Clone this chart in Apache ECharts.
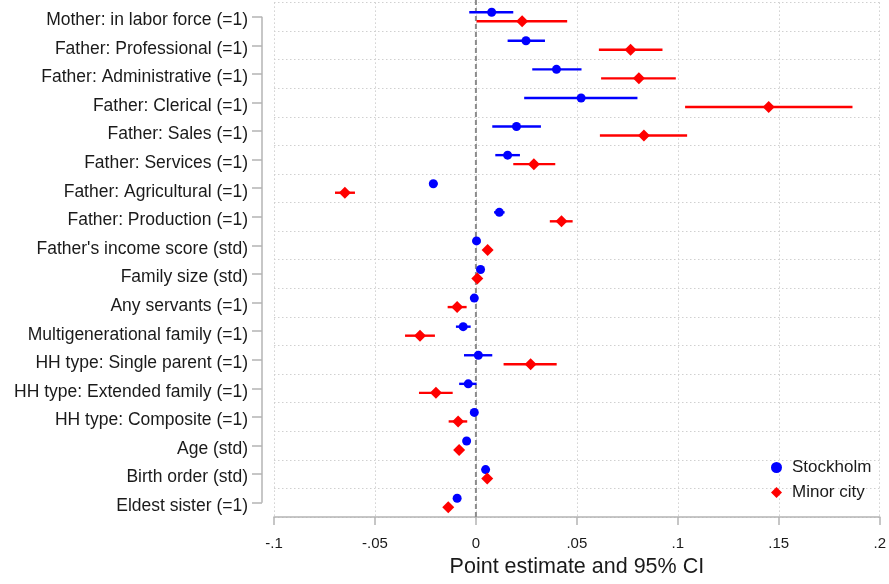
<!DOCTYPE html>
<html>
<head>
<meta charset="utf-8">
<script src="https://cdn.jsdelivr.net/npm/echarts@6/dist/echarts.min.js"></script>
<style>html,body{margin:0;padding:0;background:#fff;}#c{width:889px;height:584px;}</style>
</head>
<body>
<div id="c"></div>
<script>
var categories = [
  "Mother: in labor force (=1)",
  "Father: Professional (=1)",
  "Father: Administrative (=1)",
  "Father: Clerical (=1)",
  "Father: Sales (=1)",
  "Father: Services (=1)",
  "Father: Agricultural (=1)",
  "Father: Production (=1)",
  "Father's income score (std)",
  "Family size (std)",
  "Any servants (=1)",
  "Multigenerational family (=1)",
  "HH type: Single parent (=1)",
  "HH type: Extended family (=1)",
  "HH type: Composite (=1)",
  "Age (std)",
  "Birth order (std)",
  "Eldest sister (=1)"
];
var stockholmEst = [0.0078,0.0248,0.0399,0.0521,0.0201,0.0157,-0.0211,0.0116,0.0003,0.0023,-0.0008,-0.0063,0.0012,-0.0038,-0.0008,-0.0046,0.0048,-0.0093];
var stockholmLo  = [-0.0033,0.0157,0.0279,0.0239,0.0081,0.0096,-0.0232,0.0090,-0.0007,0.0013,-0.0022,-0.0099,-0.0059,-0.0083,-0.0022,-0.0056,0.0038,-0.0103];
var stockholmHi  = [0.0185,0.0342,0.0523,0.0800,0.0322,0.0218,-0.0190,0.0142,0.0013,0.0033,0.0006,-0.0026,0.0081,0.0003,0.0006,-0.0036,0.0058,-0.0083];
var minorEst = [0.0229,0.0766,0.0807,0.1450,0.0832,0.0287,-0.0649,0.0424,0.0058,0.0007,-0.0093,-0.0277,0.0271,-0.0198,-0.0088,-0.0083,0.0056,-0.0137];
var minorLo  = [0.0003,0.0609,0.0620,0.1036,0.0614,0.0185,-0.0698,0.0366,0.0048,-0.0003,-0.0140,-0.0351,0.0137,-0.0282,-0.0135,-0.0095,0.0046,-0.0149];
var minorHi  = [0.0452,0.0924,0.0990,0.1865,0.1046,0.0393,-0.0599,0.0479,0.0068,0.0017,-0.0046,-0.0203,0.0400,-0.0115,-0.0043,-0.0071,0.0066,-0.0125];
var seriesNames = ["Stockholm", "Minor city"];
var xTickLabels = ["-.1", "-.05", "0", ".05", ".1", ".15", ".2"];
var xTitle = "Point estimate and 95% CI";
var refLineValue = [0];

var BLUE = '#0000ff', RED = '#ff0000';
var OFF = 4.5;
var FONT = 'Liberation Sans, Arial, Helvetica, sans-serif';

function ciData(lo, hi) {
  return categories.map(function (c, i) { return [lo[i], hi[i], i]; });
}
function ptData(est) {
  return categories.map(function (c, i) { return [est[i], i]; });
}
function ciRender(color, off) {
  return function (params, api) {
    var c = api.value(2);
    var p1 = api.coord([api.value(0), c]);
    var p2 = api.coord([api.value(1), c]);
    return {
      type: 'line',
      shape: { x1: p1[0], y1: p1[1] + off, x2: p2[0], y2: p2[1] + off },
      style: { stroke: color, lineWidth: 2.4 }
    };
  };
}
function refRender(params, api) {
  var cs = params.coordSys;
  var p = api.coord([api.value(0), 0]);
  return {
    type: 'line',
    shape: { x1: p[0], y1: 0, x2: p[0], y2: cs.y + cs.height },
    style: { stroke: '#8c8c8c', lineWidth: 2, lineDash: [5, 3] }
  };
}

var chart = echarts.init(document.getElementById('c'), null, { renderer: 'canvas' });
var gridLeft = 274, gridTop = 2.4, gridBottom = 67, gridRight = 9;
chart.setOption({
  animation: false,
  backgroundColor: '#ffffff',
  textStyle: { fontFamily: FONT },
  grid: { left: gridLeft, right: gridRight, top: gridTop, bottom: gridBottom, containLabel: false },
  legend: {
    orient: 'vertical',
    left: 766, top: 454,
    itemWidth: 11, itemHeight: 11, itemGap: 8,
    data: seriesNames,
    textStyle: { fontSize: 17, color: '#1a1a1a', fontFamily: FONT, padding: [0, 0, 0, 5] }
  },
  xAxis: {
    type: 'value',
    min: -0.1, max: 0.2, interval: 0.05,
    axisLine: { show: true, onZero: false, lineStyle: { color: '#b4b4b4', width: 1.5 } },
    axisTick: { show: true, length: 8, lineStyle: { color: '#b4b4b4', width: 1.5 } },
    axisLabel: {
      margin: 19, fontSize: 15, color: '#1a1a1a', fontFamily: FONT,
      formatter: function (v) { return xTickLabels[Math.round((v + 0.1) / 0.05)]; }
    },
    splitLine: { show: true, lineStyle: { color: '#d0d0d0', width: 1, type: [1.5, 2.5] } },
    name: xTitle, nameLocation: 'middle', nameGap: 38,
    nameTextStyle: { fontSize: 21.5, color: '#1a1a1a', fontFamily: FONT }
  },
  yAxis: {
    type: 'category',
    data: categories,
    inverse: true,
    offset: 12,
    boundaryGap: true,
    axisLine: { show: false, onZero: false },
    axisTick: { show: true, alignWithLabel: true, length: 10, lineStyle: { color: '#b4b4b4', width: 1.5 } },
    axisLabel: {
      margin: 14, interval: 0,
      formatter: function (v) { return '{a|' + v + '}'; },
      rich: { a: { fontSize: 17.5, color: '#1a1a1a', fontFamily: FONT, padding: [7, 0, 0, 0] } }
    },
    splitLine: { show: true, lineStyle: { color: '#d0d0d0', width: 1, type: [1.5, 2.5] } }
  },
  series: [
    {
      type: 'custom', name: 'ref', renderItem: refRender,
      encode: { x: 0, y: 1 }, data: refLineValue.map(function (v) { return [v, 0]; }), z: 2
    },
    {
      type: 'custom', name: 'ciS', renderItem: ciRender(BLUE, -OFF),
      encode: { x: [0, 1], y: 2 }, data: ciData(stockholmLo, stockholmHi), z: 3
    },
    {
      type: 'scatter', name: seriesNames[0], data: ptData(stockholmEst),
      symbol: 'circle', symbolSize: 9, symbolOffset: [0, -OFF],
      itemStyle: { color: BLUE, opacity: 1 }, z: 4
    },
    {
      type: 'custom', name: 'ciM', renderItem: ciRender(RED, OFF),
      encode: { x: [0, 1], y: 2 }, data: ciData(minorLo, minorHi), z: 5
    },
    {
      type: 'scatter', name: seriesNames[1], data: ptData(minorEst),
      symbol: 'diamond', symbolSize: 12, symbolOffset: [0, OFF],
      itemStyle: { color: RED, opacity: 1 }, z: 6
    }
  ]
});

var yFirst = chart.convertToPixel({ yAxisIndex: 0 }, 0);
var yLast = chart.convertToPixel({ yAxisIndex: 0 }, categories.length - 1);
var axX = gridLeft - 12;
chart.setOption({
  graphic: [{
    type: 'line', silent: true,
    shape: { x1: axX, y1: yFirst, x2: axX, y2: yLast },
    style: { stroke: '#b4b4b4', lineWidth: 1.5 }
  }]
});
</script>
</body>
</html>
